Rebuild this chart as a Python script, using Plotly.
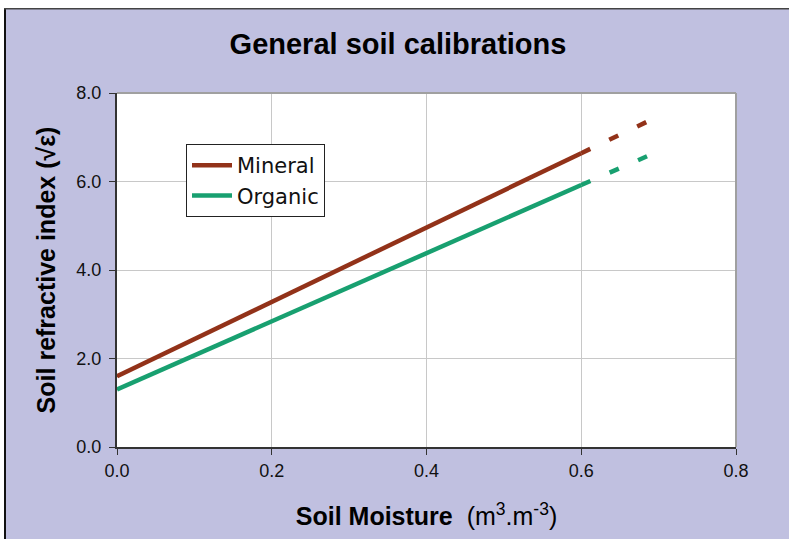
import plotly.graph_objects as go

# ---- data ----
theta_solid = [0.0, 0.6]
theta_ext = [0.6, 0.685]
mineral_solid = [1.6, 6.64]
mineral_ext = [6.64, 7.35]
organic_solid = [1.3, 5.92]
organic_ext = [5.92, 6.57]
series_names = ["Mineral", "Organic"]
x_ticks = [0.0, 0.2, 0.4, 0.6, 0.8]
y_ticks = [0.0, 2.0, 4.0, 6.0, 8.0]

MINERAL_C = "#923219"
ORGANIC_C = "#18A070"
BG = "#C0C0E0"
W, H = 789, 539
L, T = 117, 93
PW, PH = 619, 354
R, B = W - L - PW, H - T - PH

fig = go.Figure()
for name, ys, ye, col, grp in [
    (series_names[0], mineral_solid, mineral_ext, MINERAL_C, "g1"),
    (series_names[1], organic_solid, organic_ext, ORGANIC_C, "g2"),
]:
    fig.add_trace(go.Scatter(x=theta_solid, y=ys, mode="lines", name=name,
                             legendgroup=grp,
                             line=dict(color=col, width=4.5)))
    fig.add_trace(go.Scatter(x=theta_ext, y=ye, mode="lines", name=name,
                             legendgroup=grp, showlegend=False,
                             line=dict(color=col, width=4.5, dash="10px,21px")))

def px_x(p):  # figure pixel -> paper x
    return (p - L) / PW

def px_y(p):  # figure pixel -> paper y
    return (T + PH - p) / PH

shapes = [
    # white strips outside the outer frame
    dict(type="rect", xref="paper", yref="paper", x0=px_x(-5), x1=px_x(800),
         y0=px_y(8), y1=px_y(-5), fillcolor="white", line_width=0, layer="below"),
    dict(type="rect", xref="paper", yref="paper", x0=px_x(-5), x1=px_x(4),
         y0=px_y(545), y1=px_y(-5), fillcolor="white", line_width=0, layer="below"),
    # outer frame (left and top edges)
    dict(type="line", xref="paper", yref="paper", x0=px_x(5), x1=px_x(5),
         y0=px_y(8), y1=px_y(560), line=dict(color="#111111", width=2)),
    dict(type="line", xref="paper", yref="paper", x0=px_x(4), x1=px_x(820),
         y0=px_y(8.7), y1=px_y(8.7), line=dict(color="#444444", width=1.5)),
    # plot-area top and right borders
    dict(type="line", xref="paper", yref="paper", x0=0, x1=1, y0=1, y1=1,
         line=dict(color="#A0A0A0", width=2)),
    dict(type="line", xref="paper", yref="paper", x0=1, x1=1, y0=0, y1=1,
         line=dict(color="#A0A0A0", width=2)),
]

fig.update_layout(
    width=W, height=H,
    margin=dict(l=L, r=R, t=T, b=B, autoexpand=False),
    paper_bgcolor=BG,
    plot_bgcolor="white",
    font=dict(family="Liberation Sans, Arial, sans-serif", color="#111111", size=18),
    title=dict(text="<b>General soil calibrations</b>",
               font=dict(size=29, color="#000000"),
               x=398 / W, xanchor="center",
               y=1 - 44 / H, yanchor="middle",
               xref="container", yref="container"),
    showlegend=True,
    legend=dict(x=px_x(186), y=px_y(144), xanchor="left", yanchor="top",
                bgcolor="white", bordercolor="#222222", borderwidth=1,
                font=dict(family="DejaVu Sans, sans-serif", size=21, color="#111111"),
                itemwidth=40,
                tracegroupgap=18, traceorder="normal"),
    shapes=shapes,
    xaxis=dict(range=[0, 0.8], tickvals=x_ticks, tickformat=".1f",
               showgrid=True, gridcolor="#C8C8C8", gridwidth=1,
               showline=True, linecolor="#333333", linewidth=2,
               ticks="outside", ticklen=6, tickcolor="#333333", tickwidth=1,
               zeroline=False, ticklabelstandoff=0,
               title=dict(text="<b>Soil Moisture</b>  (m<sup>3</sup>.m<sup>-3</sup>)",
                          font=dict(size=25, color="#000000"), standoff=28)),
    yaxis=dict(range=[0, 8], tickvals=y_ticks, tickformat=".1f",
               showgrid=True, gridcolor="#C8C8C8", gridwidth=1,
               showline=True, linecolor="#333333", linewidth=2,
               ticks="outside", ticklen=6, tickcolor="#333333", tickwidth=1,
               zeroline=False, ticklabelstandoff=4,
               title=dict(text="<b>Soil refractive index (√ε)</b>",
                          font=dict(size=25, color="#000000"), standoff=14)),
)

fig.write_html(
    "out.html",
    config={"displayModeBar": False},
    post_script="document.body.style.margin='0';document.body.style.overflow='hidden';",
)
